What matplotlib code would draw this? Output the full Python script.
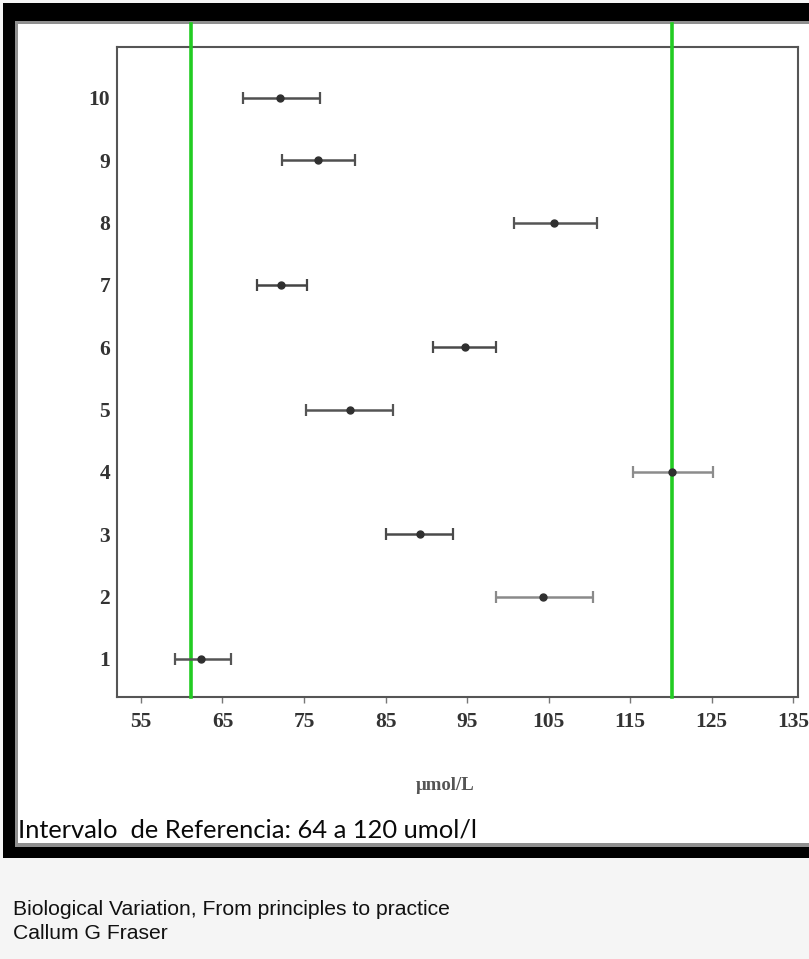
import matplotlib
matplotlib.use('Agg')
import matplotlib.pyplot as plt
from matplotlib.patches import Rectangle
from matplotlib import font_manager as fm

# ---------------- data ----------------
subjects = [1, 2, 3, 4, 5, 6, 7, 8, 9, 10]
means = [62.4, 104.3, 89.2, 120.1, 80.7, 94.8, 72.2, 105.7, 76.7, 72.1]
lower = [59.2, 98.6, 85.1, 115.3, 75.3, 90.8, 69.2, 100.7, 72.3, 67.5]
upper = [66.0, 110.4, 93.3, 125.2, 85.9, 98.6, 75.4, 110.9, 81.2, 77.0]
bar_colors = ['#555555', '#8a8a8a', '#4a4a4a', '#8c8c8c', '#555555',
              '#4a4a4a', '#444444', '#555555', '#505050', '#505050']
ref_limits = [61.1, 120.2]
x_ticks = [55, 65, 75, 85, 95, 105, 115, 125, 135]
x_label = 'μmol/L'
note = 'Intervalo  de Referencia: 64 a 120 umol/l'
source_lines = ['Biological Variation, From principles to practice', 'Callum G Fraser']


def pick(names, default):
    for n in names:
        try:
            fm.findfont(fm.FontProperties(family=n), fallback_to_default=False)
            return n
        except Exception:
            continue
    return default


serif = pick(['Liberation Serif', 'DejaVu Serif'], 'serif')
narrow = pick(['Liberation Sans Narrow', 'Liberation Sans'], 'sans-serif')
calib = pick(['Lato', 'Open Sans', 'Liberation Sans'], 'sans-serif')

W, H = 809, 959
fig = plt.figure(figsize=(W / 100, H / 100), dpi=100)
fig.patch.set_facecolor('#f5f5f5')


def rect(x0, y0, x1, y1, color, z=0):
    fig.add_artist(Rectangle((x0 / W, 1 - y1 / H), (x1 - x0) / W, (y1 - y0) / H,
                             transform=fig.transFigure, facecolor=color,
                             edgecolor='none', zorder=z))


# slide frame
rect(3, 3, W + 5, 858, 'black', 0)
rect(15, 21, W + 5, 847, '#8f8f8f', 0)
rect(18, 24, W + 5, 843, 'white', 0)

# axes
L, R, T, B = 117, 798, 46.7, 697
ax = fig.add_axes([L / W, 1 - B / H, (R - L) / W, (B - T) / H])
ax.set_zorder(2)
ax.patch.set_alpha(0)

for i in range(len(subjects)):
    c = bar_colors[i]
    ax.errorbar(means[i], subjects[i],
                xerr=[[means[i] - lower[i]], [upper[i] - means[i]]],
                fmt='o', color=c, ecolor=c, elinewidth=1.8, capsize=4.5,
                capthick=1.6, markersize=5, mfc='#303030', mec='#303030', zorder=4)

for v in ref_limits:
    ax.axvline(v, ymin=0, ymax=(B - 24) / (B - T), color='#22cc22', lw=2.6,
               clip_on=False, zorder=3)

ax.set_xlim(52.06, 135.6)
ax.set_ylim(0.39, 10.82)
ax.set_xticks(x_ticks)
ax.set_yticks(subjects)
ax.set_xticklabels([str(t) for t in x_ticks])
ax.set_yticklabels([str(s) for s in subjects])
ax.tick_params(axis='x', length=4, width=1, color='#777777', pad=7)
ax.tick_params(axis='y', length=0, pad=5)
for lab in ax.get_xticklabels() + ax.get_yticklabels():
    lab.set_fontfamily(serif)
    lab.set_fontweight('bold')
    lab.set_fontsize(15.5)
    lab.set_color('#333333')
for s in ax.spines.values():
    s.set_color('#555555')
    s.set_linewidth(1.5)

ax.set_xlabel(x_label, fontfamily=serif, fontweight='bold', fontsize=13.5, color='#555555')
ax.xaxis.set_label_coords((445 - L) / (R - L), -(786 - B) / (B - T))
ax.xaxis.label.set_va('center')

# texts
fig.canvas.draw()
renderer = fig.canvas.get_renderer()


def fit_text(x, y, s, family, target_w, size, **kw):
    t = fig.text(x / W, 1 - y / H, s, fontfamily=family, fontsize=size, va='baseline', **kw)
    w = t.get_window_extent(renderer).width
    t.set_fontsize(size * target_w / w)
    return t


fit_text(18, 837, note, calib, 457, 22, color='#0a0a0a', zorder=5)
t1 = fit_text(13, 915, source_lines[0], narrow, 442, 14, color='#111111', zorder=5)
fig.text(13 / W, 1 - 939 / H, source_lines[1], fontfamily=narrow,
         fontsize=t1.get_fontsize(), va='baseline', color='#111111', zorder=5)

fig.savefig('out.png', dpi=100, facecolor=fig.get_facecolor())
